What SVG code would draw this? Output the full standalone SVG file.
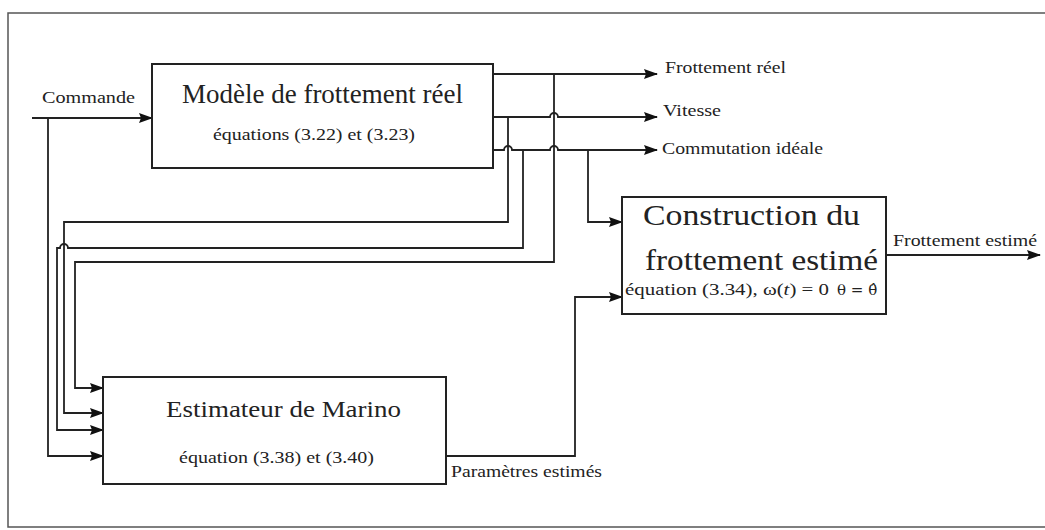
<svg xmlns="http://www.w3.org/2000/svg" width="1045" height="530" viewBox="0 0 1045 530">
<style>
  .box{fill:#fff;stroke:#222;stroke-width:2}
  .wire{fill:none;stroke:#222;stroke-width:1.8}
  .arr{marker-end:url(#ah)}
  text{font-family:"Liberation Serif","Times New Roman",serif;fill:#222}
  .big{font-size:27px}
  .huge{font-size:30px}
  .mid{font-size:23px}
  .sm{font-size:16px}
  .theta{font-family:"DejaVu Serif",serif;font-size:15px}
  .frame{fill:none;stroke:#555;stroke-width:1.5}
</style>
<defs>
  <marker id="ah" markerUnits="userSpaceOnUse" markerWidth="14" markerHeight="10" refX="13" refY="5" orient="auto">
    <path d="M0,0 L14,5 L0,10 L2,5 Z" fill="#111"/>
  </marker>
</defs>
<rect width="1045" height="530" fill="#fff"/>
<path class="frame" d="M1045,13 H8 V527 H1045"/>

<g id="connectors">
  <path class="wire arr" d="M32,118 H152"/>
  <path class="wire arr" d="M48,118 V456 H103"/>
  <path class="wire arr" d="M493,74 H657"/>
  <path class="wire arr" d="M493,117 H550 a4,4 0 0 1 8,0 H657"/>
  <path class="wire arr" d="M493,150 H504 a4,4 0 0 1 8,0 H550 a4,4 0 0 1 8,0 H657"/>
  <path class="wire arr" d="M554,74 V262 H75 V388 H103"/>
  <path class="wire arr" d="M508,117 V222 H64 V413 H103"/>
  <path class="wire arr" d="M523,150 V248 H68 a4,4 0 0 0 -8,0 H57 V430 H103"/>
  <path class="wire arr" d="M588,150 V222 H622"/>
  <path class="wire arr" d="M446,456 H575 V297 H622"/>
  <path class="wire arr" d="M886,255 H1040"/>
</g>

<g id="labels">
  <text class="sm" x="42" y="103" textLength="93" lengthAdjust="spacingAndGlyphs">Commande</text>
  <text class="sm" x="665" y="73" textLength="121" lengthAdjust="spacingAndGlyphs">Frottement réel</text>
  <text class="sm" x="663" y="116" textLength="58" lengthAdjust="spacingAndGlyphs">Vitesse</text>
  <text class="sm" x="662" y="154" textLength="161" lengthAdjust="spacingAndGlyphs">Commutation idéale</text>
  <text class="sm" x="893" y="246" textLength="144" lengthAdjust="spacingAndGlyphs">Frottement estimé</text>
  <text class="sm" x="451" y="477" textLength="151" lengthAdjust="spacingAndGlyphs">Paramètres estimés</text>
</g>

<g id="modele">
  <rect class="box" x="152" y="64" width="341" height="104"/>
  <text class="big" x="182" y="103" textLength="281" lengthAdjust="spacingAndGlyphs">Modèle de frottement réel</text>
  <text class="sm" x="213" y="140" textLength="202" lengthAdjust="spacingAndGlyphs">équations (3.22) et (3.23)</text>
</g>

<g id="construction">
  <rect class="box" x="622" y="197" width="264" height="117"/>
  <text class="huge" x="643" y="225" textLength="217" lengthAdjust="spacingAndGlyphs">Construction du</text>
  <text class="huge" x="645" y="270" textLength="233" lengthAdjust="spacingAndGlyphs">frottement estimé</text>
  <text class="sm" x="625" y="295" textLength="204" lengthAdjust="spacingAndGlyphs">équation (3.34), ω(<tspan font-style="italic">t</tspan>) = 0</text>
  <text class="theta" x="837" y="295">θ = θ̂</text>
</g>

<g id="marino">
  <rect class="box" x="103" y="377" width="343" height="107"/>
  <text class="mid" x="166" y="417" textLength="235" lengthAdjust="spacingAndGlyphs">Estimateur de Marino</text>
  <text class="sm" x="179" y="463" textLength="195" lengthAdjust="spacingAndGlyphs">équation (3.38) et (3.40)</text>
</g>
</svg>
